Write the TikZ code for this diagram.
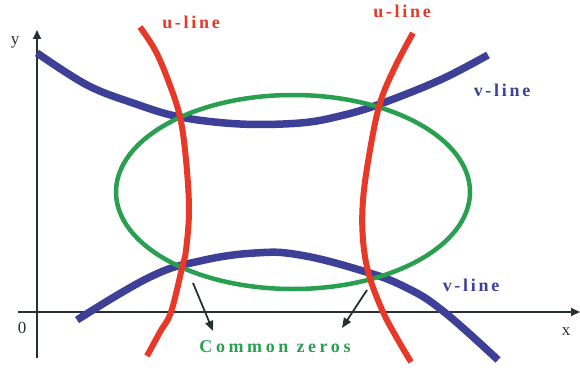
\documentclass[tikz,border=0pt]{standalone}
\usepackage{fontspec}
\setmainfont{Liberation Serif}
\newfontfamily\curvefont[LetterSpace=15]{Liberation Serif}
\newfontfamily\zerofont[LetterSpace=20]{Liberation Serif}
\usetikzlibrary{arrows.meta,positioning}
\definecolor{ured}{RGB}{232,56,40}
\definecolor{vblue}{RGB}{62,64,152}
\definecolor{zgreen}{RGB}{40,160,80}
\definecolor{axisgray}{RGB}{40,48,50}

\begin{document}
\begin{tikzpicture}[
  x=1pt,y=-1pt,
  curvelabel/.style={
    inner sep=0pt,
    font=\curvefont\bfseries\fontsize{18}{18}\selectfont
  },
  ulabel/.style={curvelabel,text=ured},
  vlabel/.style={curvelabel,text=vblue},
  zlabel/.style={
    curvelabel,
    text=zgreen,
    font=\zerofont\bfseries\fontsize{18}{18}\selectfont
  },
  axislabel/.style={
    inner sep=0pt,
    text=axisgray,
    font=\fontsize{17}{17}\selectfont
  },
  axis/.style={
    -{Triangle[length=9pt,width=8pt]},
    draw=axisgray,
    line width=1.8pt
  },
  pointer/.style={axis,-{Triangle[length=10pt,width=8pt]}},
  ucurve/.style={draw=ured,line width=6pt},
  vcurve/.style={draw=vblue,line width=7.5pt},
  zcurve/.style={draw=zgreen,line width=4.5pt}
]
\useasboundingbox (0,0) rectangle (580,369);

% Axes
\coordinate (origin) at (37,312);
\coordinate (xend) at (580,312);
\coordinate (xstart) at (18,312);
\coordinate (yend) at (37,30);
\coordinate (ystart) at (37,358);
\draw[axis] (xstart) -- (xend);
\draw[axis] (ystart) -- (yend);
\node[axislabel] (ylabel) at (15,42) {y};
\node[axislabel] (xlabel) at (566,332) {x};
\node[axislabel] (zerolabel) at (22,328) {0};

% Zero set of v: two branches
\draw[vcurve] plot[smooth,tension=0.6] coordinates {
  (37,53) (87,85) (133,103) (180,117) (240,124) (300,123)
  (340,116) (380,104) (440,80) (488,55)};
\draw[vcurve] plot[smooth,tension=0.7] coordinates {
  (77,320) (150,277) (200,261) (255,253) (300,255)
  (363,271) (405,287) (443,311) (498,360)};

% Zero set of the ellipse
\draw[zcurve] (293,192) ellipse [x radius=177,y radius=97];

% Zero set of u: two branches
\draw[ucurve] plot[smooth,tension=0.6] coordinates {
  (140,27) (155,50) (168,80) (180,117) (186,160) (189,210)
  (186,250) (182,268) (171,312) (160,332) (147,356)};
\draw[ucurve] plot[smooth,tension=0.6] coordinates {
  (413,33) (395,67) (380,103) (370,150) (363,200) (363,240)
  (369,275) (383,312) (398,340) (411,362)};

% Labels
\node[ulabel] (uleft) at (191,22) {u-line};
\node[ulabel] (uright) at (402,11) {u-line};
\node[vlabel] (vtop) at (502,90) {v-line};
\node[vlabel] (vbottom) at (471,285) {v-line};
\node[zlabel] (zeros) at (275,347) {Common zeros};

% Pointers to the common zeros
\coordinate (lefttail) at (193,283);
\coordinate (lefthead) at (213,331);
\coordinate (righttail) at (367,290);
\coordinate (righthead) at (342,328);
\draw[pointer] (lefttail) -- (lefthead);
\draw[pointer] (righttail) -- (righthead);
\end{tikzpicture}
\end{document}
